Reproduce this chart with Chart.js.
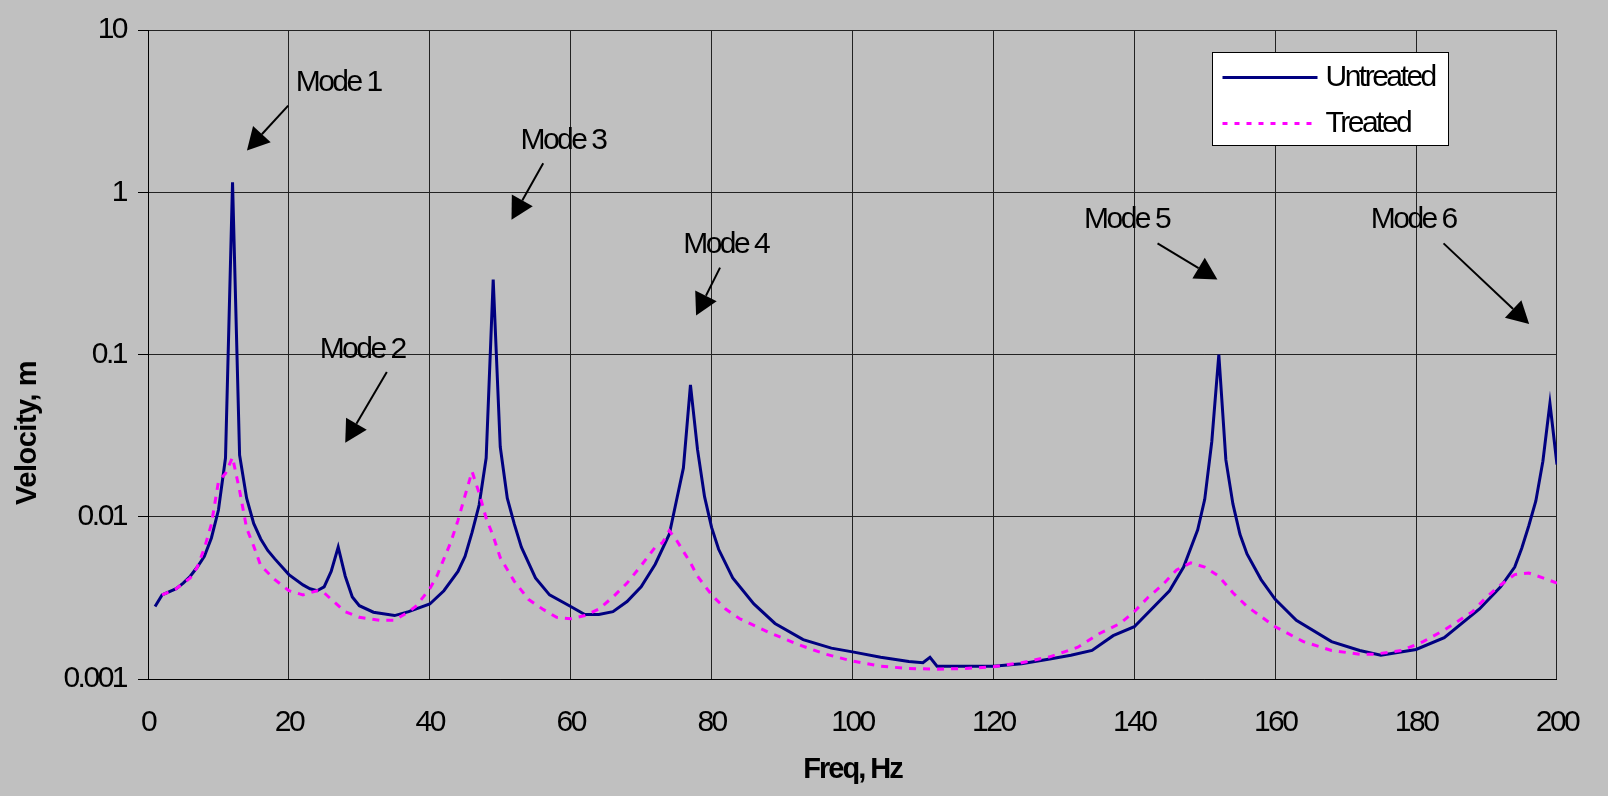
<!DOCTYPE html>
<html>
<head>
<meta charset="utf-8">
<script src="https://cdn.jsdelivr.net/npm/chart.js@4/dist/chart.umd.min.js"></script>
<style>
  html, body { margin: 0; padding: 0; background: #c0c0c0; }
  #wrap { position: relative; width: 1608px; height: 796px; }
</style>
</head>
<body>
<div id="wrap"><canvas id="chart"></canvas></div>
<script>
// values (Hz, velocity)
const freqUntreated = [1, 2, 4, 5, 6, 7, 8, 9, 10, 11, 12, 13, 14, 15, 16, 17, 18, 20, 22, 23, 24, 25, 26, 27, 28, 29, 30, 32, 35, 37,
  40, 42, 44, 45, 46, 47, 48, 49, 50, 51, 52, 53, 55, 57, 60, 62, 64, 66, 68, 70, 72, 74, 75, 76, 77, 78, 79, 80, 81, 83,
  86, 89, 93, 97, 100, 104, 108, 110, 111, 112, 116, 120, 124, 128, 131, 134, 137, 140, 145, 147, 149, 150, 151, 152, 153, 154, 155, 156, 158, 160,
  163, 168, 172, 175, 180, 184, 189, 192, 194, 195, 196, 197, 198, 199, 200];
const velUntreated = [0.0028, 0.0033, 0.0036, 0.0039, 0.0043, 0.0049, 0.0057, 0.0074, 0.011, 0.023, 1.15, 0.024, 0.013, 0.0091, 0.0073, 0.0062, 0.0055, 0.0044, 0.0038, 0.0036, 0.0035, 0.0037, 0.0046, 0.0065, 0.0043, 0.0032, 0.00283, 0.00258, 0.00246, 0.0026,
  0.0029, 0.0035, 0.0046, 0.0057, 0.008, 0.0118, 0.023, 0.29, 0.027, 0.013, 0.009, 0.0065, 0.0042, 0.0033, 0.0028, 0.0025, 0.0025, 0.0026, 0.003, 0.0037, 0.0051, 0.0078, 0.0125, 0.02, 0.065, 0.026, 0.0133, 0.0086, 0.0063, 0.0042,
  0.0029, 0.0022, 0.00175, 0.00155, 0.00147, 0.00136, 0.00128, 0.00126, 0.00136, 0.0012, 0.0012, 0.0012, 0.00124, 0.00133, 0.0014, 0.0015, 0.00185, 0.0021, 0.0035, 0.0049, 0.0083, 0.0128, 0.029, 0.1, 0.0224, 0.012, 0.0078, 0.0059, 0.0041, 0.0031,
  0.0023, 0.0017, 0.0015, 0.0014, 0.00152, 0.0018, 0.0027, 0.0037, 0.0049, 0.0064, 0.0088, 0.0125, 0.022, 0.05, 0.021];

const freqTreated = [2, 4, 6, 7, 8, 9, 10, 11, 12, 13, 14, 15, 16, 18, 20, 22, 24, 25, 26, 28, 30, 33, 35, 37, 38, 40, 41, 42, 43, 44,
  45, 46, 47, 48, 49, 50, 52, 54, 56, 58, 60, 62, 64, 66, 68, 70, 72, 73, 74, 75, 77, 78, 80, 82, 84, 88, 92, 96, 100, 104,
  108, 112, 116, 120, 124, 128, 132, 135, 138, 140, 142, 144, 146, 148, 150, 152, 154, 156, 160, 164, 168, 172, 174, 178, 181, 184, 188, 190, 192, 194,
  196, 198, 200];
const velTreated = [0.0033, 0.0036, 0.0042, 0.0049, 0.0064, 0.009, 0.0165, 0.0185, 0.0232, 0.0145, 0.0085, 0.0066, 0.005, 0.0041, 0.0035, 0.0033, 0.0035, 0.0034, 0.0031, 0.0026, 0.0024, 0.0023, 0.0023, 0.0026, 0.0028, 0.0036, 0.0043, 0.0055, 0.007, 0.0095,
  0.0135, 0.019, 0.014, 0.0098, 0.0076, 0.0056, 0.004, 0.0031, 0.0027, 0.0024, 0.00235, 0.00246, 0.0027, 0.0032, 0.0039, 0.005, 0.0065, 0.0069, 0.0082, 0.0072, 0.0052, 0.0043, 0.0033, 0.0027, 0.00235, 0.00195, 0.00165, 0.00143, 0.00129, 0.0012,
  0.00116, 0.00115, 0.00116, 0.00119, 0.00126, 0.00137, 0.00157, 0.0019, 0.0022, 0.0026, 0.0032, 0.0038, 0.0047, 0.0052, 0.0049, 0.0043, 0.0034, 0.0028, 0.0021, 0.0017, 0.0015, 0.00142, 0.00142, 0.0015, 0.0017, 0.002, 0.0026, 0.0032, 0.0038, 0.0044,
  0.0045, 0.0042, 0.0039];

const xTicks = [0, 20, 40, 60, 80, 100, 120, 140, 160, 180, 200];
const yTicks = [0.001, 0.01, 0.1, 1, 10];
const seriesNames = ['Untreated', 'Treated'];

// callouts, in data coordinates
const modeNotes = [
  { label: 'Mode 1', text: [27.0, 4.73], from: [19.9, 3.42], to: [14.05, 1.81] },
  { label: 'Mode 2', text: [30.4, 0.107], from: [33.9, 0.078], to: [28.0, 0.0286] },
  { label: 'Mode 3', text: [58.9, 2.09], from: [56.1, 1.51], to: [51.6, 0.678] },
  { label: 'Mode 4', text: [82.0, 0.477], from: [81.2, 0.343], to: [77.8, 0.174] },
  { label: 'Mode 5', text: [138.9, 0.678], from: [143.3, 0.484], to: [151.8, 0.29] },
  { label: 'Mode 6', text: [179.6, 0.676], from: [183.9, 0.484], to: [196.05, 0.154] }
];

const FONT = '"Liberation Sans", Arial, sans-serif';
const NAVY = '#000080';
const MAGENTA = '#ff00ff';

function toPoints(xs, ys) {
  return xs.map((x, i) => ({ x, y: ys[i] }));
}

function arrow(ctx, x0, y0, x1, y1) {
  const ang = Math.atan2(y1 - y0, x1 - x0);
  const len = 22, half = 12;
  const bx = x1 - len * Math.cos(ang);
  const by = y1 - len * Math.sin(ang);
  ctx.lineWidth = 2;
  ctx.beginPath();
  ctx.moveTo(x0, y0);
  ctx.lineTo(bx, by);
  ctx.stroke();
  ctx.beginPath();
  ctx.moveTo(x1, y1);
  ctx.lineTo(bx + half * Math.sin(ang), by - half * Math.cos(ang));
  ctx.lineTo(bx - half * Math.sin(ang), by + half * Math.cos(ang));
  ctx.closePath();
  ctx.fill();
}

const overlay = {
  id: 'overlay',
  beforeDraw(chart) {
    // the original labels are a squeezed Arial
    chart.ctx.letterSpacing = '-2.5px';
  },
  afterDatasetsDraw(chart) {
    const { ctx, chartArea: a, scales: { x, y } } = chart;
    ctx.save();
    ctx.fillStyle = '#000';
    ctx.strokeStyle = '#000';

    // mode callouts
    ctx.font = '30px ' + FONT;
    ctx.letterSpacing = '-2.5px';
    ctx.textAlign = 'center';
    ctx.textBaseline = 'middle';
    modeNotes.forEach(n => {
      ctx.fillText(n.label, x.getPixelForValue(n.text[0]), y.getPixelForValue(n.text[1]));
      arrow(ctx,
        x.getPixelForValue(n.from[0]), y.getPixelForValue(n.from[1]),
        x.getPixelForValue(n.to[0]), y.getPixelForValue(n.to[1]));
    });

    // legend box
    const bx = Math.round(a.right - 345) + 0.5;
    const by = Math.round(a.top + 22) + 0.5;
    ctx.fillStyle = '#fff';
    ctx.fillRect(bx, by, 236, 93);
    ctx.lineWidth = 1;
    ctx.strokeRect(bx, by, 236, 93);
    ctx.textAlign = 'left';
    chart.data.datasets.forEach((ds, i) => {
      const ly = by + 25 + i * 46;
      ctx.strokeStyle = ds.borderColor;
      ctx.lineWidth = 3;
      ctx.setLineDash(ds.borderDash && ds.borderDash.length ? [5, 7] : []);
      ctx.beginPath();
      ctx.moveTo(bx + 10, ly);
      ctx.lineTo(bx + 105, ly);
      ctx.stroke();
      ctx.setLineDash([]);
      ctx.fillStyle = '#000';
      ctx.fillText(ds.label, bx + 113, ly);
    });

    // axis titles
    ctx.font = 'bold 29px ' + FONT;
    ctx.letterSpacing = '-2px';
    ctx.textAlign = 'center';
    ctx.fillText('Freq, Hz', (a.left + a.right) / 2, a.bottom + 91);
    ctx.letterSpacing = '-0.5px';
    ctx.translate(28, a.top + 403);
    ctx.rotate(-Math.PI / 2);
    ctx.fillText('Velocity, m', 0, 0);
    ctx.restore();
  }
};

new Chart(document.getElementById('chart'), {
  type: 'line',
  data: {
    datasets: [
      {
        label: seriesNames[0],
        data: toPoints(freqUntreated, velUntreated),
        borderColor: NAVY,
        borderWidth: 3,
        pointRadius: 0,
        tension: 0,
        fill: false,
        order: 1
      },
      {
        label: seriesNames[1],
        data: toPoints(freqTreated, velTreated),
        borderColor: MAGENTA,
        borderWidth: 3,
        borderDash: [7, 7],
        pointRadius: 0,
        tension: 0,
        fill: false,
        order: 0
      }
    ]
  },
  options: {
    responsive: true,
    maintainAspectRatio: false,
    animation: false,
    events: [],
    layout: { padding: { left: 0, top: 26, right: 28, bottom: 0 } },
    plugins: {
      legend: { display: false },
      tooltip: { enabled: false }
    },
    scales: {
      x: {
        type: 'linear',
        min: 0,
        max: 200,
        afterBuildTicks: s => { s.ticks = xTicks.map(v => ({ value: v })); },
        afterFit: s => { s.height = 117; },
        ticks: {
          color: '#000',
          font: { family: FONT, size: 30 },
          padding: 26,
          maxRotation: 0,
          autoSkip: false
        },
        grid: { color: '#222', lineWidth: 1, drawTicks: false },
        border: { color: '#000', width: 1 }
      },
      y: {
        type: 'logarithmic',
        min: 0.001,
        max: 10,
        afterBuildTicks: s => { s.ticks = yTicks.map(v => ({ value: v })); },
        afterFit: s => { s.width = 148; },
        ticks: {
          color: '#000',
          font: { family: FONT, size: 30 },
          padding: 12,
          autoSkip: false,
          callback: v => String(v)
        },
        grid: { color: '#222', lineWidth: 1, drawTicks: true, tickLength: 10, tickColor: '#000' },
        border: { color: '#000', width: 1 }
      }
    }
  },
  plugins: [overlay]
});
</script>
</body>
</html>
